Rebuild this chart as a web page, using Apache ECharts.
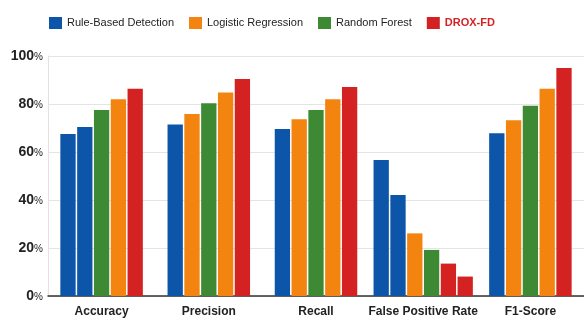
<!DOCTYPE html>
<html>
<head>
<meta charset="utf-8">
<script src="https://cdn.jsdelivr.net/npm/echarts@6/dist/echarts.min.js"></script>
<style>
  html, body { margin: 0; padding: 0; background: #fff; }
  #chart { width: 584px; height: 320px; }
</style>
</head>
<body>
<div id="chart"></div>
<script>
  // metric groups on the x axis
  var categories = ['Accuracy', 'Precision', 'Recall', 'False Positive Rate', 'F1-Score']
  var models = ['Rule-Based Detection', 'Logistic Regression', 'Random Forest', 'DROX-FD']
  var modelColors = ['#0c55a8', '#f2840f', '#3e8a34', '#d42222']

  // bars in each group, left to right (values in %) and which model colour each one uses
  var groupValues = [
    [67.5, 70.4, 77.5, 82.0, 86.4],
    [71.5, 75.8, 80.3, 84.8, 90.4],
    [69.6, 73.6, 77.5, 82.0, 87.1],
    [56.7, 42.1, 26.1, 19.2, 13.5, 8.1],
    [67.8, 73.2, 79.3, 86.4, 95.0]
  ]
  var groupModels = [
    [0, 0, 2, 1, 3],
    [0, 1, 2, 1, 3],
    [0, 1, 2, 1, 3],
    [0, 0, 1, 2, 3, 3],
    [0, 1, 2, 1, 3]
  ]

  var barData = []
  for (let i in groupValues) {
    let n = groupValues[i].length
    for (let j = 0; j < n; j++) {
      barData.push([Number(i), groupValues[i][j], groupModels[i][j], j, n])
    }
  }

  var chart = echarts.init(document.getElementById('chart'))
  var font = '"Liberation Sans", Arial, sans-serif'
  var barW = 15.3
  var barGap = 1.5

  var legendSeries = models.map(function (name, k) {
    return { name: name, type: 'bar', data: [], itemStyle: { color: modelColors[k] } }
  })

  chart.setOption({
    animation: false,
    legend: {
      left: 44,
      top: 12,
      width: 560,
      itemWidth: 13,
      itemHeight: 12,
      itemGap: 15,
      itemTextGap: 6,
      icon: 'rect',
      textStyle: { fontFamily: font, fontSize: 11, color: '#222' },
      data: [
        models[0], models[1], models[2],
        { name: models[3], textStyle: { color: '#d42222', fontWeight: 'bold' } }
      ]
    },
    grid: { left: 48, right: -6, top: 56, bottom: 24 },
    xAxis: {
      type: 'category',
      data: categories,
      axisTick: { show: false },
      axisLine: { lineStyle: { color: '#333', width: 1.5 } },
      axisLabel: { interval: 0, margin: 10, fontFamily: font, fontSize: 12, fontWeight: 'bold', color: '#222' }
    },
    yAxis: {
      type: 'value',
      min: 0,
      max: 100,
      interval: 20,
      axisLine: { show: true, lineStyle: { color: '#e2e2e2' } },
      axisTick: { show: false },
      splitLine: { lineStyle: { color: '#e4e4e4' } },
      axisLabel: {
        margin: 5,
        formatter: function (v) { return '{n|' + v + '}{p|%}' },
        rich: {
          n: { fontFamily: font, fontSize: 14, fontWeight: 'bold', color: '#222' },
          p: { fontFamily: font, fontSize: 10, color: '#222', padding: [3, 0, 0, 0] }
        }
      }
    },
    series: legendSeries.concat([{
      type: 'custom',
      data: barData,
      encode: { x: 0, y: 1 },
      renderItem: function (params, api) {
        let cat = api.value(0)
        let top = api.coord([cat, api.value(1)])
        let base = api.coord([cat, 0])
        let slot = api.value(3)
        let n = api.value(4)
        let total = n * barW + (n - 1) * barGap
        let x = top[0] - total / 2 + slot * (barW + barGap)
        return {
          type: 'rect',
          shape: { x: x, y: top[1], width: barW, height: base[1] - top[1] },
          style: { fill: modelColors[api.value(2)] }
        }
      }
    }])
  })
</script>
</body>
</html>
